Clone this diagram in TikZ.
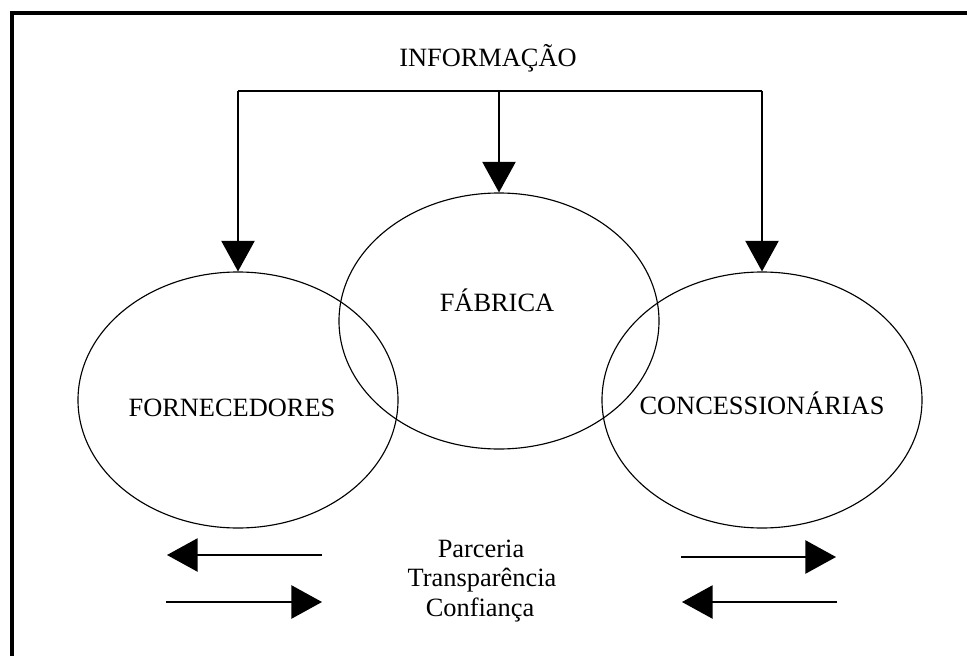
\documentclass[tikz,border=0pt]{standalone}
\usepackage{fontspec}
\setmainfont{Liberation Serif}
\usetikzlibrary{arrows.meta,shapes.geometric}
\begin{document}
\begin{tikzpicture}[x=0.75pt,y=-0.75pt,
  oval/.style={draw,ellipse,line width=0.85pt,minimum width=240pt,minimum height=192pt,inner sep=0pt},
  lbl/.style={font=\fontsize{19.8pt}{23pt}\selectfont,inner sep=0pt},
  conn/.style={line width=1.1pt},
  arr/.style={conn,-{Triangle[length=23pt,width=25pt]}}]
\useasboundingbox (0,0) rectangle (967,656);
\fill[white] (0,0) rectangle (967,656);
% frame (only top and left edges visible)
\coordinate (fbl) at (12,656);
\coordinate (ftl) at (12,13);
\coordinate (ftr) at (967,13);
\draw[line width=3pt] (fbl) -- (ftl) -- (ftr);
% ellipses
\node[oval] (forn) at (238,400) {};
\node[oval] (conc) at (762,400) {};
\node[oval] (fab) at (499,321) {};
% labels
\node[lbl] (info) at (488,58) {INFORMAÇÃO};
\node[lbl] (tforn) at (232,408) {FORNECEDORES};
\node[lbl] (tconc) at (762,403) {CONCESSIONÁRIAS};
\node[lbl] (tfab) at (497,300) {FÁBRICA};
\node[lbl] (parc) at (481,549) {Parceria};
\node[lbl] (transp) at (482,580) {Transparência};
\node[lbl] (conf) at (480,610) {Confiança};
% information bus
\coordinate (busL) at (238,91);
\coordinate (busM) at (499,91);
\coordinate (busR) at (762,91);
\draw[conn] (busL) -- (busR);
\draw[arr] (busL) -- (forn.north);
\draw[arr] (busM) -- (fab.north);
\draw[arr] (busR) -- (conc.north);
% bottom arrows
\coordinate (l1a) at (322,555);
\coordinate (l1b) at (167,555);
\coordinate (l2a) at (166,602);
\coordinate (l2b) at (322,602);
\coordinate (r1a) at (681,557);
\coordinate (r1b) at (836,557);
\coordinate (r2a) at (837,602);
\coordinate (r2b) at (682,602);
\draw[arr] (l1a) -- (l1b);
\draw[arr] (l2a) -- (l2b);
\draw[arr] (r1a) -- (r1b);
\draw[arr] (r2a) -- (r2b);
\end{tikzpicture}
\end{document}
